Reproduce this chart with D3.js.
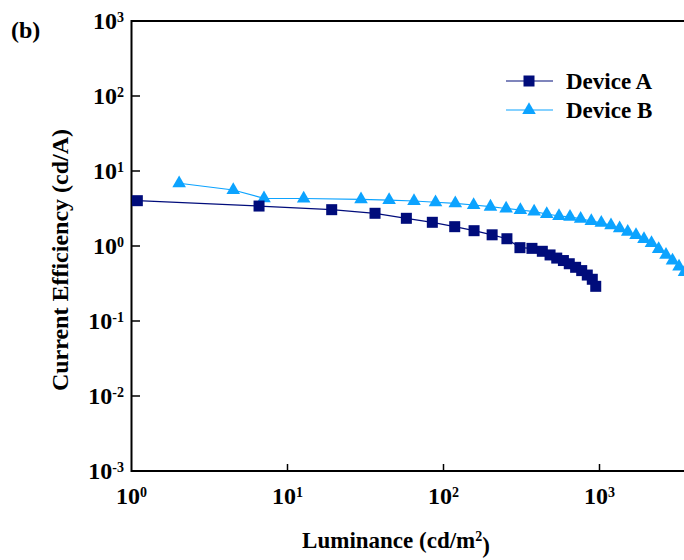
<!DOCTYPE html>
<html>
<head>
<meta charset="utf-8">
<script src="https://cdn.jsdelivr.net/npm/d3@7"></script>
<style>
  html, body { margin: 0; padding: 0; background: #fff; }
  svg { display: block; }
  text { font-family: "Liberation Serif", "Times New Roman", serif; font-weight: bold; fill: #000; }
</style>
</head>
<body>
<svg id="chart" width="684" height="560"></svg>
<script>
// Luminance (cd/m2) and current efficiency (cd/A) for each device
const lumA = [1.09, 6.57, 19.2, 36.4, 57.8, 84.8, 118, 157, 205, 255, 309, 369, 430, 482, 532, 587, 640, 703, 769, 835, 899, 946];
const effA = [4.02, 3.41, 3.05, 2.73, 2.34, 2.07, 1.81, 1.60, 1.41, 1.25, 0.95, 0.93, 0.85, 0.76, 0.69, 0.64, 0.58, 0.52, 0.47, 0.41, 0.36, 0.29];

const lumB = [2.02, 4.49, 7.07, 12.7, 29.6, 44.8, 64.7, 88.9, 119, 156, 200, 252, 311, 381, 459, 550, 647, 757, 886, 1027, 1185, 1346, 1517, 1714, 1928, 2154, 2395, 2669, 2938, 3234, 3508];
const effB = [6.86, 5.58, 4.32, 4.30, 4.19, 4.10, 3.98, 3.83, 3.71, 3.52, 3.34, 3.16, 3.02, 2.87, 2.67, 2.51, 2.44, 2.31, 2.15, 2.03, 1.88, 1.72, 1.55, 1.40, 1.24, 1.09, 0.91, 0.76, 0.64, 0.53, 0.45];

const xTickExps = [0, 1, 2, 3];
const yTickExps = [-3, -2, -1, 0, 1, 2, 3];
const seriesNames = ["Device A", "Device B"];
const seriesColors = ["#000c7b", "#0ca3ff"];

const svg = d3.select("#chart");

const x = d3.scaleLog().domain([1, 1e4]).range([131.5, 755.5]);
const y = d3.scaleLog().domain([1e-3, 1e3]).range([471, 21]);

const W = 684;

// Frame: left, top and bottom edges
svg.append("path")
  .attr("d", `M${W},21 H131.5 V471 H${W}`)
  .attr("fill", "none").attr("stroke", "#000").attr("stroke-width", 2);

// Inward ticks
const g = svg.append("g");
g.selectAll(".xt").data(xTickExps.slice(1)).join("line")
  .attr("x1", d => x(Math.pow(10, d))).attr("x2", d => x(Math.pow(10, d)))
  .attr("y1", 471).attr("y2", 464)
  .attr("stroke", "#000").attr("stroke-width", 1.5);
g.selectAll(".yt").data(yTickExps.slice(1, -1)).join("line")
  .attr("x1", 131.5).attr("x2", 140)
  .attr("y1", d => y(Math.pow(10, d))).attr("y2", d => y(Math.pow(10, d)))
  .attr("stroke", "#000").attr("stroke-width", 1.5);

// Power-of-ten tick labels
function powLabel(sel) {
  sel.append("tspan").text("10");
  sel.append("tspan").attr("dy", "-0.5em").attr("font-size", "14px").text(d => d);
}
svg.selectAll(".xl").data(xTickExps).join("text")
  .attr("x", d => x(Math.pow(10, d)))
  .attr("y", 504)
  .attr("text-anchor", "middle")
  .attr("font-size", "24px")
  .call(powLabel);
svg.selectAll(".yl").data(yTickExps).join("text")
  .attr("x", 124)
  .attr("y", d => y(Math.pow(10, d)) + 8)
  .attr("text-anchor", "end")
  .attr("font-size", "24px")
  .call(powLabel);

// Axis titles
const xt = svg.append("text").attr("x", 396).attr("y", 548)
  .attr("text-anchor", "middle").attr("font-size", "23px");
xt.append("tspan").text("Luminance (cd/m");
xt.append("tspan").attr("dy", "-0.5em").attr("font-size", "14px").text("2");
xt.append("tspan").attr("dy", "0.5em").text(")");

svg.append("text")
  .attr("transform", "translate(68,260) rotate(-90)")
  .attr("text-anchor", "middle").attr("font-size", "24px")
  .text("Current Efficiency (cd/A)");

svg.append("text").attr("x", 11).attr("y", 38).attr("font-size", "24px").text("(b)");

// Series
const dataA = lumA.map((v, i) => [v, effA[i]]);
const dataB = lumB.map((v, i) => [v, effB[i]]);
const line = d3.line().x(d => x(d[0])).y(d => y(d[1]));

const plot = svg.append("g");
plot.append("path").datum(dataA).attr("d", line)
  .attr("fill", "none").attr("stroke", seriesColors[0]).attr("stroke-width", 1.2);
plot.append("path").datum(dataB).attr("d", line)
  .attr("fill", "none").attr("stroke", seriesColors[1]).attr("stroke-width", 1.2);

const sq = 11;
const triangle = d3.symbol().type(d3.symbolTriangle).size(80);

plot.selectAll(".mb").data(dataB).join("path")
  .attr("transform", d => `translate(${x(d[0])},${y(d[1])})`)
  .attr("d", triangle)
  .attr("fill", seriesColors[1]);
plot.selectAll(".ma").data(dataA).join("rect")
  .attr("x", d => x(d[0]) - sq / 2).attr("y", d => y(d[1]) - sq / 2)
  .attr("width", sq).attr("height", sq)
  .attr("fill", seriesColors[0]);

// Legend
const legend = svg.append("g");
seriesNames.forEach((name, i) => {
  const ly = 81 + i * 29;
  legend.append("line").attr("x1", 506).attr("x2", 553).attr("y1", ly).attr("y2", ly)
    .attr("stroke", seriesColors[i]).attr("stroke-width", 1.2);
  if (i === 0) {
    legend.append("rect").attr("x", 529 - sq / 2).attr("y", ly - sq / 2)
      .attr("width", sq).attr("height", sq).attr("fill", seriesColors[i]);
  } else {
    legend.append("path").attr("transform", `translate(529,${ly})`)
      .attr("d", triangle).attr("fill", seriesColors[i]);
  }
  legend.append("text").attr("x", 566).attr("y", ly + 8)
    .attr("font-size", "23px").text(name);
});
</script>
</body>
</html>
